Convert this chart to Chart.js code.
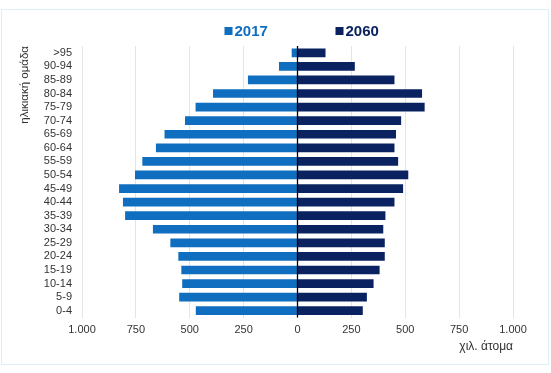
<!DOCTYPE html>
<html>
<head>
<meta charset="utf-8">
<script src="https://cdn.jsdelivr.net/npm/chart.js@4"></script>
<style>
  body { margin: 0; background: #fff; }
  #panel { position: absolute; left: 1px; top: 9px; width: 546px; height: 354px; border: 1px solid #dcf0f8; }
  #wrap { position: absolute; left: 0; top: 0; width: 546px; height: 354px; }
</style>
</head>
<body>
<div id="panel"><div id="wrap"><canvas id="pyramid"></canvas></div></div>
<script>
const ageGroups = ['>95', '90-94', '85-89', '80-84', '75-79', '70-74', '65-69', '60-64', '55-59', '50-54',
                   '45-49', '40-44', '35-39', '30-34', '25-29', '20-24', '15-19', '10-14', '5-9', '0-4'];
const pop2017 = [27, 86, 230, 392, 473, 522, 617, 657, 720, 754, 828, 810, 800, 671, 590, 553, 539, 535, 549, 472];
const pop2060 = [130, 266, 450, 578, 590, 481, 457, 450, 467, 514, 490, 450, 408, 398, 405, 405, 381, 353, 322, 303];
const xTicks = [-1000, -750, -500, -250, 0, 250, 500, 750, 1000];

const blue = '#0f6ebf';
const navy = '#0a2360';

function fmt(v) {
    return String(Math.abs(v)).replace(/\B(?=(\d{3})+(?!\d))/g, '.');
}

// black line at zero, drawn over the bars
const zeroLine = {
    id: 'zeroLine',
    afterDatasetsDraw(chart) {
        const x = chart.scales.x.getPixelForValue(0);
        const ctx = chart.ctx;
        ctx.save();
        ctx.strokeStyle = '#000';
        ctx.lineWidth = 1.3;
        ctx.beginPath();
        ctx.moveTo(x, chart.chartArea.top);
        ctx.lineTo(x, chart.chartArea.bottom);
        ctx.stroke();
        ctx.restore();
    }
};

// legend: coloured square + bold coloured year
const topLegend = {
    id: 'topLegend',
    afterDraw(chart) {
        const ctx = chart.ctx;
        const zx = chart.scales.x.getPixelForValue(0);
        const y = 21;
        ctx.save();
        ctx.font = 'bold 15px "Liberation Sans", Arial, sans-serif';
        ctx.textBaseline = 'middle';
        chart.data.datasets.forEach((ds, i) => {
            const bx = i === 0 ? zx - 73 : zx + 38;
            ctx.fillStyle = ds.backgroundColor;
            ctx.fillRect(bx, y - 4, 8, 8);
            ctx.fillText(ds.label, bx + 10, y + 1);
        });
        ctx.restore();
    }
};

new Chart(document.getElementById('pyramid').getContext('2d'), {
    type: 'bar',
    data: {
        labels: ageGroups,
        datasets: [
            {
                label: '2017',
                data: pop2017.map(v => -v),
                backgroundColor: blue,
                barPercentage: 0.64,
                categoryPercentage: 1
            },
            {
                label: '2060',
                data: pop2060,
                backgroundColor: navy,
                barPercentage: 0.64,
                categoryPercentage: 1
            }
        ]
    },
    options: {
        indexAxis: 'y',
        responsive: true,
        maintainAspectRatio: false,
        animation: false,
        layout: { padding: { left: 0, right: 35, top: 36, bottom: 0 } },
        plugins: {
            legend: { display: false },
            tooltip: { enabled: false }
        },
        scales: {
            x: {
                stacked: true,
                min: -1000,
                max: 1000,
                afterBuildTicks: s => { s.ticks = xTicks.map(v => ({ value: v })); },
                afterFit: s => { s.height = 46.5; },
                border: { display: false },
                grid: { color: '#e4e4e4', drawTicks: false },
                ticks: {
                    callback: v => fmt(v),
                    color: '#333',
                    padding: 6,
                    maxRotation: 0,
                    font: { family: '"Liberation Sans", Arial, sans-serif', size: 11 }
                },
                title: {
                    display: true,
                    text: 'χιλ. άτομα',
                    align: 'end',
                    color: '#333',
                    padding: { top: 0, bottom: 10 },
                    font: { family: '"Liberation Sans", Arial, sans-serif', size: 12 }
                }
            },
            y: {
                stacked: true,
                afterFit: s => { s.width = 80; },
                border: { display: false },
                grid: { display: false, drawTicks: false },
                ticks: {
                    autoSkip: false,
                    color: '#333',
                    padding: 10,
                    font: { family: '"Liberation Sans", Arial, sans-serif', size: 11 }
                },
                title: {
                    display: true,
                    text: 'ηλικιακή ομάδα',
                    align: 'end',
                    color: '#333',
                    padding: { top: 16, bottom: 0 },
                    font: { family: '"Liberation Sans", Arial, sans-serif', size: 11.5 }
                }
            }
        }
    },
    plugins: [zeroLine, topLegend]
});
</script>
</body>
</html>
